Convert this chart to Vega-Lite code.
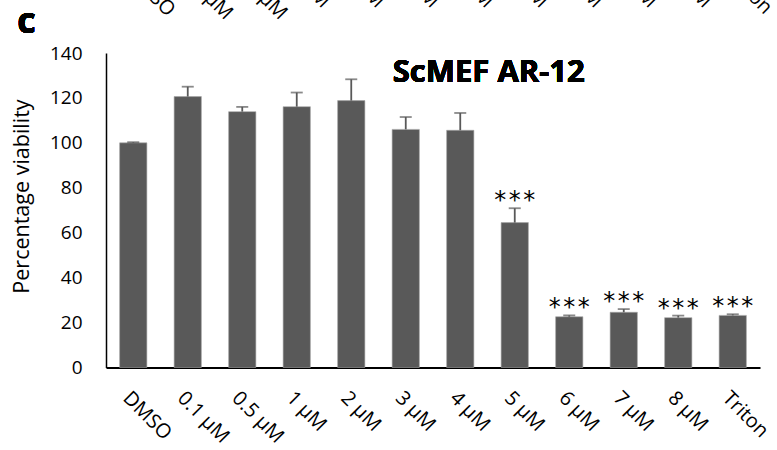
{
  "$schema": "https://vega.github.io/schema/vega-lite/v6.json",
  "autosize": {"type": "none"},
  "width": 654,
  "height": 314.5,
  "padding": {"left": 106, "top": 53, "right": 17, "bottom": 82.5},
  "background": "white",
  "config": {"view": {"stroke": null}, "font": "Open Sans"},
  "data": {"values": [
    {"dose": "DMSO", "viability": 100, "errTop": 100.3, "sig": ""},
    {"dose": "0.1 µM", "viability": 120.6, "errTop": 125.0, "sig": ""},
    {"dose": "0.5 µM", "viability": 113.9, "errTop": 116.0, "sig": ""},
    {"dose": "1 µM", "viability": 116.1, "errTop": 122.4, "sig": ""},
    {"dose": "2 µM", "viability": 118.8, "errTop": 128.3, "sig": ""},
    {"dose": "3 µM", "viability": 106.0, "errTop": 111.5, "sig": ""},
    {"dose": "4 µM", "viability": 105.6, "errTop": 113.3, "sig": ""},
    {"dose": "5 µM", "viability": 64.5, "errTop": 70.9, "sig": "***"},
    {"dose": "6 µM", "viability": 22.6, "errTop": 23.2, "sig": "***"},
    {"dose": "7 µM", "viability": 24.6, "errTop": 26.0, "sig": "***"},
    {"dose": "8 µM", "viability": 22.2, "errTop": 23.1, "sig": "***"},
    {"dose": "Triton", "viability": 23.2, "errTop": 23.7, "sig": "***"}
  ]},
  "encoding": {
    "x": {"field": "dose", "type": "nominal", "sort": null,
      "scale": {"paddingInner": 0.5, "paddingOuter": 0.25},
      "axis": {"title": null, "labelAngle": 45, "labelAlign": "left", "labelBaseline": "top", "labelPadding": 20, "ticks": false, "domainColor": "black", "domainWidth": 2, "labelFontSize": 20, "labelFont": "Open Sans", "labelColor": "black"}}
  },
  "layer": [
    {"mark": {"type": "bar", "color": "#595959", "stroke": "#a6a6a6", "strokeWidth": 0.6},
     "encoding": {"y": {"field": "viability", "type": "quantitative",
       "scale": {"domain": [0, 140], "nice": false},
       "axis": {"title": "Percentage viability", "values": [0, 20, 40, 60, 80, 100, 120, 140], "grid": false, "ticks": false, "domainColor": "black", "domainWidth": 1.5, "labelFontSize": 19, "labelFont": "Open Sans", "labelColor": "black", "labelPadding": 24, "titleFontSize": 21.5, "titleFont": "Open Sans", "titleFontWeight": "normal", "titleColor": "black", "titleX": -73, "titleY": 143, "titleBaseline": "bottom", "titleAlign": "center"}}}},
    {"mark": {"type": "rule", "color": "#595959", "strokeWidth": 1.8},
     "encoding": {"y": {"field": "viability", "type": "quantitative"}, "y2": {"field": "errTop"}}},
    {"mark": {"type": "tick", "color": "#595959", "thickness": 1.8, "size": 12},
     "encoding": {"y": {"field": "errTop", "type": "quantitative"}}},
    {"mark": {"type": "text", "font": "DejaVu Sans Mono", "fontSize": 24, "color": "black", "baseline": "alphabetic", "dy": 0},
     "encoding": {"y": {"field": "errTop", "type": "quantitative"}, "text": {"field": "sig"}}},
    {"mark": {"type": "text", "font": "Open Sans", "fontSize": 20, "color": "black", "angle": 45, "align": "left", "baseline": "top", "dx": 5},
     "encoding": {"y": {"datum": 181}, "text": {"field": "dose"}}},
    {"mark": {"type": "text", "font": "Open Sans", "fontSize": 36, "fontWeight": "bold", "color": "black", "align": "left", "baseline": "alphabetic", "dx": -116},
     "encoding": {"x": {"datum": "DMSO"}, "y": {"datum": 149}, "text": {"value": "c"}}},
    {"mark": {"type": "text", "font": "Open Sans", "fontSize": 31, "fontWeight": "bold", "color": "black", "align": "left", "baseline": "alphabetic", "dx": -67.5},
     "encoding": {"x": {"datum": "4 µM"}, "y": {"datum": 127.2}, "text": {"value": "ScMEF AR-12"}}}
  ]
}
